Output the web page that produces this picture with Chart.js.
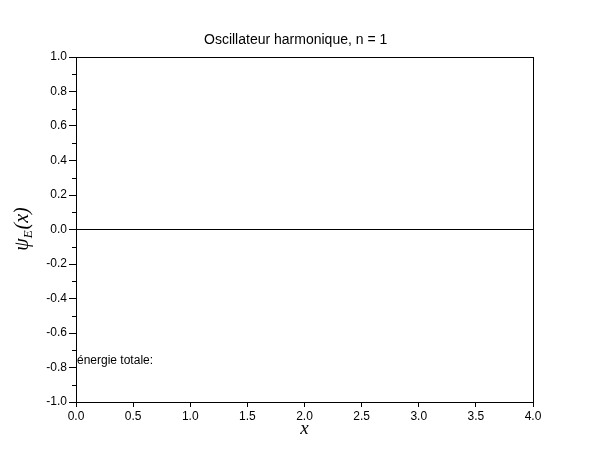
<!DOCTYPE html>
<html>
<head>
<meta charset="utf-8">
<script src="https://cdn.jsdelivr.net/npm/chart.js@4"></script>
<style>
  body { margin: 0; background: #fff; }
  #wrap { width: 610px; height: 460px; }
</style>
</head>
<body>
<div id="wrap"><canvas id="oscillateur"></canvas></div>
<script>
// donnees
const xValues = [0, 4];
const psiValues = [0, 0];
const energyLabel = 'énergie totale:';
const energyPos = [0, -0.76];
const titre = 'Oscillateur harmonique, n = 1';

const FONT = '"Liberation Sans", Arial, sans-serif';
const MATH = '"Liberation Serif", "DejaVu Serif", serif';

// cadre, graduations mineures, etiquettes
const decor = {
  id: 'decor',
  afterDraw(chart) {
    const ctx = chart.ctx;
    const area = chart.chartArea;
    const xs = chart.scales.x, ys = chart.scales.y;
    ctx.save();
    ctx.strokeStyle = '#000';
    ctx.lineWidth = 1;
    ctx.strokeRect(Math.round(area.left) + 0.5, Math.round(area.top) + 0.5,
      Math.round(area.right - area.left), Math.round(area.bottom - area.top));

    // graduations mineures sur y
    ctx.beginPath();
    for (let v = -0.9; v < 1; v += 0.2) {
      const py = Math.round(ys.getPixelForValue(v)) + 0.5;
      ctx.moveTo(area.left - 4, py);
      ctx.lineTo(area.left, py);
    }
    ctx.stroke();

    ctx.fillStyle = '#000';

    // titre
    ctx.font = '14px ' + FONT;
    ctx.textAlign = 'left';
    ctx.textBaseline = 'middle';
    ctx.fillText(titre, 204, 40);

    // texte energie
    ctx.font = '12px ' + FONT;
    ctx.fillText(energyLabel, xs.getPixelForValue(energyPos[0]) + 1, ys.getPixelForValue(energyPos[1]));

    // label x
    ctx.font = 'italic 19px ' + MATH;
    ctx.textAlign = 'center';
    ctx.fillText('x', (area.left + area.right) / 2, 429);

    // label y : psi_E(x)
    ctx.translate(22, (area.top + area.bottom) / 2);
    ctx.rotate(-Math.PI / 2);
    const big = 'italic 20px ' + MATH, small = 'italic 13px ' + MATH;
    ctx.font = big; const w1 = ctx.measureText('ψ').width, w3 = ctx.measureText('(x)').width;
    ctx.font = small; const w2 = ctx.measureText('E').width;
    let px = -(w1 + w2 + w3) / 2;
    ctx.textAlign = 'left';
    ctx.textBaseline = 'alphabetic';
    ctx.font = big; ctx.fillText('ψ', px, 6); px += w1;
    ctx.font = small; ctx.fillText('E', px, 10); px += w2 + 1;
    ctx.font = big; ctx.fillText('(x)', px, 6);
    ctx.restore();
  }
};

new Chart(document.getElementById('oscillateur'), {
  type: 'line',
  data: {
    datasets: [{
      data: xValues.map((x, i) => ({ x: x, y: psiValues[i] })),
      borderColor: '#000',
      borderWidth: 1,
      pointRadius: 0,
      fill: false
    }]
  },
  options: {
    responsive: true,
    maintainAspectRatio: false,
    animation: false,
    layout: { padding: { left: 0, right: 77, top: 57, bottom: 0 } },
    plugins: {
      legend: { display: false },
      tooltip: { enabled: false },
      title: { display: false }
    },
    scales: {
      x: {
        type: 'linear',
        min: 0,
        max: 4,
        afterFit: s => { s.height = 58; },
        border: { display: true, color: '#000' },
        grid: { drawOnChartArea: false, tickLength: 5, color: '#000' },
        ticks: {
          stepSize: 0.5,
          color: '#000',
          padding: 2,
          maxRotation: 0,
          font: { family: FONT, size: 12 },
          callback: v => v.toFixed(1)
        }
      },
      y: {
        min: -1,
        max: 1,
        afterFit: s => { s.width = 76; },
        border: { display: true, color: '#000' },
        grid: { drawOnChartArea: false, tickLength: 7, color: '#000' },
        ticks: {
          stepSize: 0.2,
          color: '#000',
          padding: 2,
          font: { family: FONT, size: 12 },
          callback: v => (Math.abs(v) < 1e-9 ? 0 : v).toFixed(1)
        }
      }
    }
  },
  plugins: [decor]
});
</script>
</body>
</html>
